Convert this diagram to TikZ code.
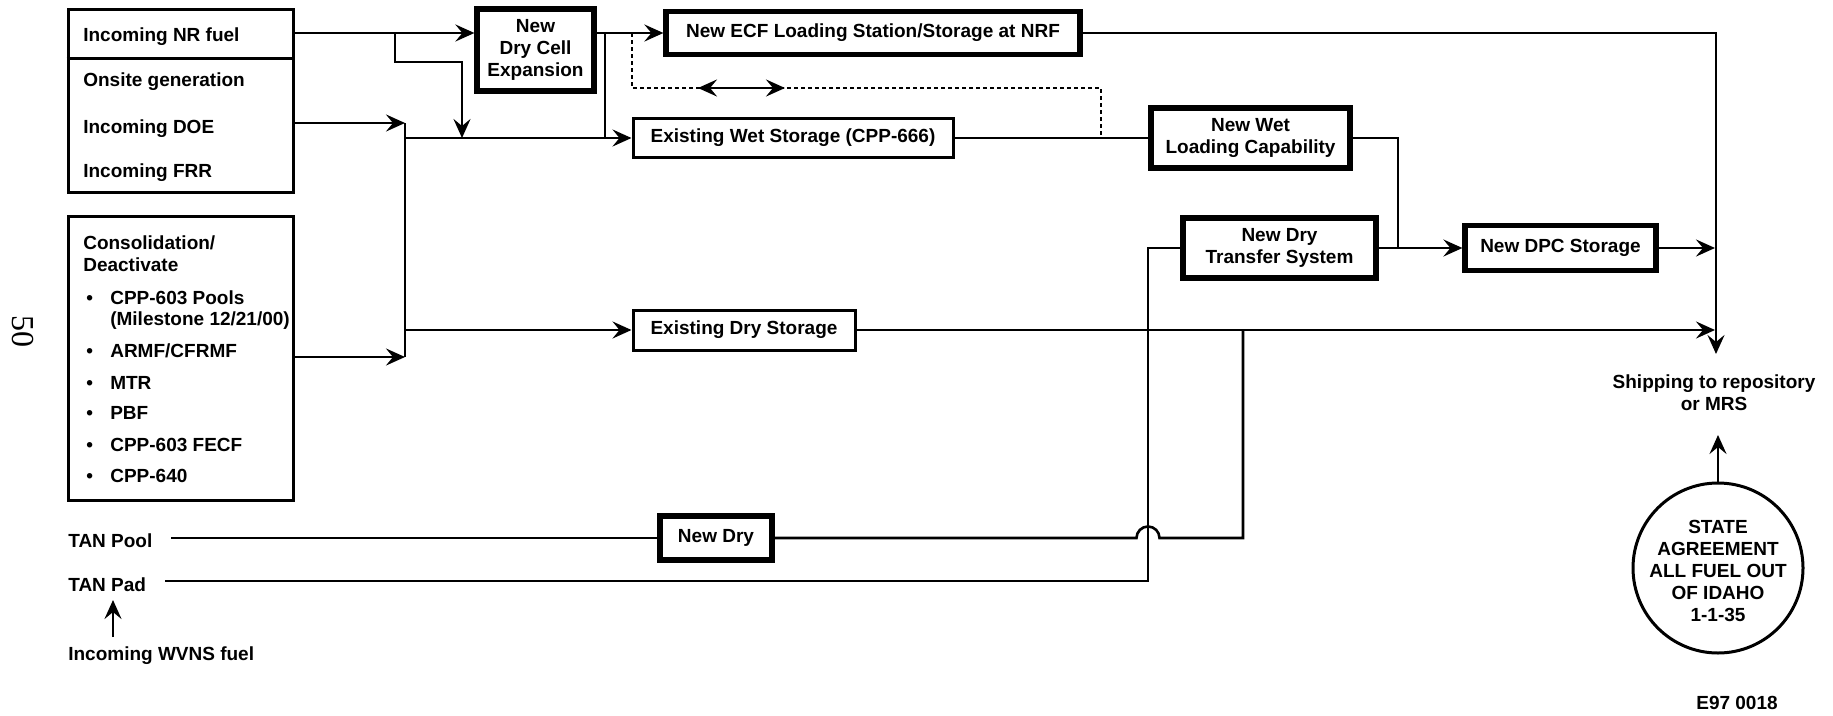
\documentclass[tikz,border=0pt]{standalone}
\usepackage{fontspec}
\setmainfont{Liberation Sans}
\newfontfamily\pgserif{Liberation Serif}
\usetikzlibrary{arrows.meta}
\begin{document}
\begin{tikzpicture}[x=1pt,y=-1pt,
  font=\fontsize{19}{22}\selectfont\bfseries,
  line width=2.6pt,
  thinbox/.style={draw, line width=3pt, inner sep=0pt, align=center},
  thickbox/.style={draw, line width=5.2pt, inner sep=0pt, align=center},
  lbl/.style={anchor=base west, inner sep=0pt},
  tip/.tip={Stealth[length=19pt,width=17pt,inset=7pt]},
  arr/.style={-tip},
  dotline/.style={dash pattern=on 4pt off 3pt, line width=2.3pt}
]
\useasboundingbox (0,0) rectangle (1833,715);

% ---------- source boxes ----------
\node[thinbox, minimum width=225, minimum height=183] (srcA) at (180.5,100.5) {};
\coordinate (div) at (0,58);
\draw[line width=3pt] (srcA.west |- div) -- (srcA.east |- div);
\node[lbl] (nr) at (82,41) {Incoming NR fuel};
\node[lbl] (onsite) at (82,86) {Onsite generation};
\node[lbl] (doe) at (82,133) {Incoming DOE};
\node[lbl] (frr) at (82,177) {Incoming FRR};

\node[thinbox, minimum width=225, minimum height=284] (cons) at (180.5,358) {};
\node[lbl] (c1) at (82,249) {Consolidation/};
\node[lbl] (c2) at (82,271) {Deactivate};
\node[lbl] (b1t) at (85,304) {\textbullet};
\node[lbl] (c3) at (109,304) {CPP-603 Pools};
\node[lbl] (c4) at (109,325) {(Milestone 12/21/00)};
\node[lbl] (b2t) at (85,357) {\textbullet};
\node[lbl] (c5) at (109,357) {ARMF/CFRMF};
\node[lbl] (b3t) at (85,389) {\textbullet};
\node[lbl] (c6) at (109,389) {MTR};
\node[lbl] (b4t) at (85,419) {\textbullet};
\node[lbl] (c7) at (109,419) {PBF};
\node[lbl] (b5t) at (85,451) {\textbullet};
\node[lbl] (c8) at (109,451) {CPP-603 FECF};
\node[lbl] (b6t) at (85,482) {\textbullet};
\node[lbl] (c9) at (109,482) {CPP-640};

\node[lbl] (tanpool) at (67,547) {TAN Pool};
\node[lbl] (tanpad) at (67,591) {TAN Pad};
\node[lbl] (wvns) at (67,660) {Incoming WVNS fuel};

\node[rotate=-90, inner sep=0pt, font=\pgserif\fontsize{32}{32}\selectfont] (pg) at (23,331) {50};

% ---------- process boxes ----------
\node[thickbox, minimum width=117, minimum height=82] (drycell) at (535.5,50) {New\\Dry Cell\\Expansion};
\node[thickbox, minimum width=414, minimum height=43] (ecf) at (873,33) {New ECF Loading Station/Storage at NRF};
\node[thinbox, minimum width=320, minimum height=39] (wet) at (793,138) {Existing Wet Storage (CPP-666)};
\node[thickbox, minimum width=199, minimum height=60] (wetload) at (1250.5,138) {New Wet\\Loading Capability};
\node[thickbox, minimum width=193, minimum height=60] (drytrans) at (1279.5,248) {New Dry\\Transfer System};
\node[thickbox, minimum width=191, minimum height=45] (dpc) at (1560.5,248) {New DPC Storage};
\node[thinbox, minimum width=222, minimum height=40] (drystor) at (744,330) {Existing Dry Storage};
\node[thickbox, minimum width=112, minimum height=44] (newdry) at (716,538) {New Dry};

\node[align=center, inner sep=0pt] (ship) at (1714,393) {Shipping to repository\\or MRS};
\node[thinbox, circle, minimum size=170] (state) at (1718,568)
  {\raisebox{-9pt}[0pt][0pt]{\begin{tabular}{@{}c@{}}STATE\\AGREEMENT\\ALL FUEL OUT\\OF IDAHO\\1-1-35\end{tabular}}};
\node[inner sep=0pt] (code) at (1737,703) {E97 0018};

% ---------- connectors ----------
\coordinate (yNR) at (0,33);
\draw[arr] (srcA.east |- yNR) -- (drycell.west |- yNR);
\coordinate (a1) at (395,33);
\coordinate (a2) at (395,62);
\coordinate (a3) at (462,62);
\coordinate (a4) at (462,138);
\draw[arr] (a1) -- (a2) -- (a3) -- (a4);

\coordinate (bt) at (405,123);
\coordinate (bb) at (405,357);
\draw (bt) -- (bb);
\draw[arr] (srcA.east |- bt) -- (bt);
\draw[arr] (cons.east |- bb) -- (bb);
\coordinate (bw) at (405,138);
\draw[arr] (bw) -- (wet.west);
\coordinate (bd) at (405,330);
\draw[arr] (bd) -- (drystor.west);

\draw[arr] (drycell.east |- ecf.west) -- (ecf.west);
\coordinate (v1) at (605,33);
\coordinate (v2) at (605,138);
\draw (v1) -- (v2);

\coordinate (d1) at (632,33);
\coordinate (d2) at (632,88);
\coordinate (d3) at (1101,88);
\coordinate (d4) at (1101,138);
\draw[dotline] (d1) -- (d2) -- (d3) -- (d4);
\coordinate (da1) at (698,88);
\coordinate (da2) at (785,88);
\draw[tip-tip] (da1) -- (da2);

\draw (wet.east) -- (wetload.west);
\coordinate (j1) at (1398,138);
\coordinate (j2) at (1398,248);
\draw (wetload.east) -- (j1) -- (j2);
\draw[arr] (drytrans.east) -- (dpc.west);
\coordinate (rb) at (1715,248);
\draw[arr] (dpc.east) -- (rb);

\coordinate (r1) at (1716,33);
\coordinate (r2) at (1716,354);
\draw[arr] (ecf.east) -- (r1) -- (r2);
\coordinate (r3) at (1715,330);
\draw[arr] (drystor.east) -- (r3);

\coordinate (t1) at (1148,248);
\coordinate (t2) at (1148,581);
\coordinate (p0) at (165,581);
\draw (drytrans.west) -- (t1) -- (t2) -- (p0);

\coordinate (q0) at (171,538);
\draw (q0) -- (newdry.west);
\coordinate (h1) at (1136.5,538);
\coordinate (q2) at (1243,538);
\coordinate (q3) at (1243,330);
\draw (newdry.east) -- (h1) arc[start angle=180, end angle=360, radius=11.5] -- (q2) -- (q3);

\coordinate (w1) at (113,637);
\coordinate (w2) at (113,600);
\draw[arr] (w1) -- (w2);

\coordinate (s1) at (1718,435);
\draw[arr] (state.north) -- (s1);
\end{tikzpicture}
\end{document}
